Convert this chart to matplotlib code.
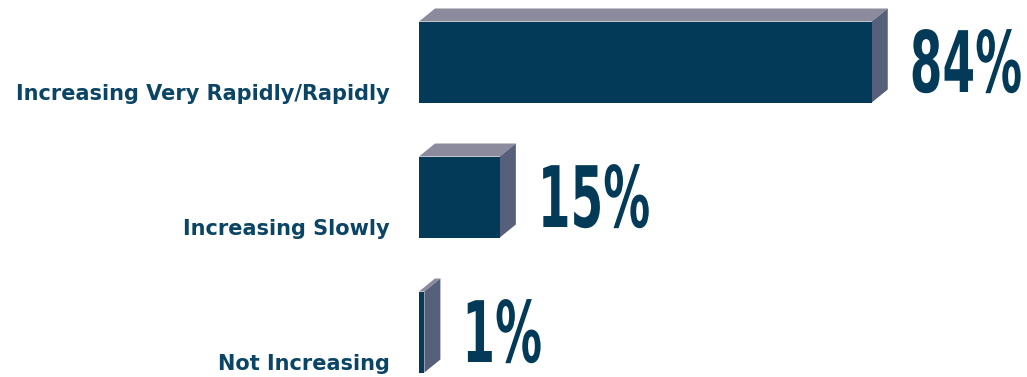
import matplotlib
matplotlib.use("Agg")
import matplotlib.pyplot as plt
from matplotlib.patches import Polygon
from matplotlib.patheffects import AbstractPathEffect
from matplotlib.transforms import Affine2D

# Survey responses
categories = ["Increasing Very Rapidly/Rapidly", "Increasing Slowly", "Not Increasing"]
values = [84, 15, 1]
value_labels = ["84%", "15%", "1%"]

FRONT = "#033a57"
TOP = "#8c8a9d"
SIDE = "#56607a"
TEXT = "#0b4566"

W, H, DPI = 1027, 377, 100
PX_PER_UNIT_X = 5.39      # pixels per percentage point
PX_PER_UNIT_Y = 135.0     # pixels between category rows
X0_PX = 419               # pixel position of 0 %
Y0_PX = 62                # pixel centre of the first row


class Stretch(AbstractPathEffect):
    """Scale glyph outlines about the text's own baseline origin."""

    def __init__(self, sx=1.0, sy=1.0):
        super().__init__()
        self.sx = sx
        self.sy = sy

    def draw_path(self, renderer, gc, tpath, affine, rgbFace=None):
        renderer.draw_path(gc, tpath, Affine2D().scale(self.sx, self.sy) + affine, rgbFace)


fig = plt.figure(figsize=(W / DPI, H / DPI), dpi=DPI)
ax = fig.add_axes([0, 0, 1, 1])
ax.set_xlim(-X0_PX / PX_PER_UNIT_X, (W - X0_PX) / PX_PER_UNIT_X)
ax.set_ylim((H - Y0_PX) / PX_PER_UNIT_Y, -Y0_PX / PX_PER_UNIT_Y)
ax.axis("off")

bar_h = 81 / PX_PER_UNIT_Y
dx = 16 / PX_PER_UNIT_X
dy = 13 / PX_PER_UNIT_Y

pos = list(range(len(categories)))
ax.barh(pos, values, height=bar_h, color=FRONT, zorder=3)

for y, v, lab, cat in zip(pos, values, value_labels, categories):
    top = y - bar_h / 2
    bot = y + bar_h / 2
    ax.add_patch(Polygon([(0, top), (dx, top - dy), (v + dx, top - dy), (v, top)],
                         closed=True, facecolor=TOP, edgecolor="none", zorder=2))
    ax.add_patch(Polygon([(v, top), (v + dx, top - dy), (v + dx, bot - dy), (v, bot)],
                         closed=True, facecolor=SIDE, edgecolor="none", zorder=2))
    # tall condensed value label
    ax.text(v + dx + 22 / PX_PER_UNIT_X, y + 30 / PX_PER_UNIT_Y, lab,
            ha="left", va="baseline", fontsize=34.5, fontweight="bold",
            color=FRONT, family="DejaVu Sans",
            path_effects=[Stretch(0.98, 1.77)])
    ax.text(-29 / PX_PER_UNIT_X, y + 38 / PX_PER_UNIT_Y, cat,
            ha="right", va="baseline", fontsize=15, fontweight="bold",
            color=TEXT, family="DejaVu Sans")

fig.savefig("out.png", dpi=DPI)
